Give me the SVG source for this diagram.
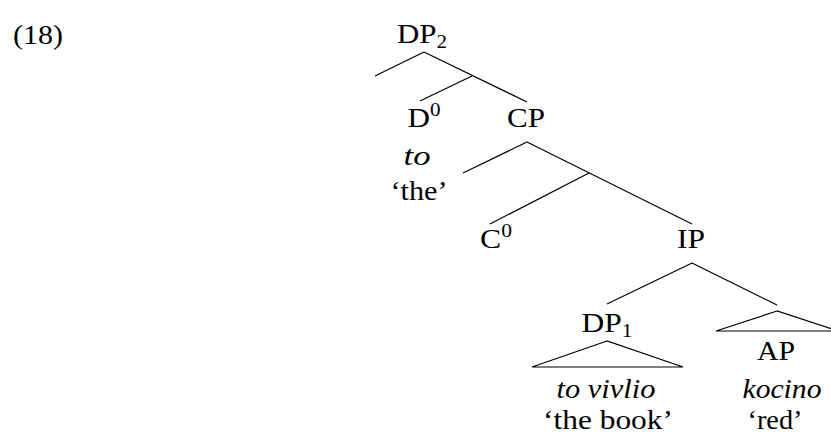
<svg xmlns="http://www.w3.org/2000/svg" width="831" height="434" viewBox="0 0 831 434">
<style>
text{font-family:"Liberation Serif","DejaVu Serif",serif;font-size:28px;fill:#000;text-anchor:middle}
.it{font-style:italic}
.s{font-size:19px}
#connectors line,#connectors polygon{stroke:#000;stroke-width:1.2;fill:none}
</style>
<rect width="831" height="434" fill="#fff"/>
<text x="38" y="44" textLength="50" lengthAdjust="spacingAndGlyphs">(18)</text>
<g id="connectors">
<line x1="424" y1="52" x2="375" y2="76"/>
<line x1="424" y1="52" x2="527" y2="102"/>
<line x1="472" y1="76" x2="420" y2="101"/>
<line x1="527" y1="142" x2="463" y2="173"/>
<line x1="527" y1="142" x2="692" y2="224"/>
<line x1="589" y1="173" x2="490" y2="224"/>
<line x1="692" y1="263" x2="607" y2="304"/>
<line x1="692" y1="263" x2="777" y2="305"/>
<polygon points="607,341 532,367 683,367"/>
<polygon points="777,311 716,331 838,331"/>
</g>
<g id="DP2"><text x="422" y="43" textLength="50" lengthAdjust="spacingAndGlyphs">DP<tspan class="s" dy="5">2</tspan></text></g>
<g id="D0"><text x="424" y="127" textLength="33" lengthAdjust="spacingAndGlyphs">D<tspan class="s" dy="-11">0</tspan></text>
<text class="it" x="417" y="165" textLength="27" lengthAdjust="spacingAndGlyphs">to</text>
<text x="419" y="200" textLength="57" lengthAdjust="spacingAndGlyphs">‘the’</text></g>
<g id="CP"><text x="526" y="127" textLength="38" lengthAdjust="spacingAndGlyphs">CP</text></g>
<g id="C0"><text x="496" y="248" textLength="32" lengthAdjust="spacingAndGlyphs">C<tspan class="s" dy="-11">0</tspan></text></g>
<g id="IP"><text x="691" y="248" textLength="28" lengthAdjust="spacingAndGlyphs">IP</text></g>
<g id="DP1"><text x="607" y="332" textLength="51" lengthAdjust="spacingAndGlyphs">DP<tspan class="s" dy="5">1</tspan></text>
<text class="it" x="606" y="398" textLength="99" lengthAdjust="spacingAndGlyphs">to vivlio</text>
<text x="608" y="429" textLength="130" lengthAdjust="spacingAndGlyphs">‘the book’</text></g>
<g id="AP"><text x="776" y="360" textLength="38" lengthAdjust="spacingAndGlyphs">AP</text>
<text class="it" x="782" y="398" textLength="79" lengthAdjust="spacingAndGlyphs">kocino</text>
<text x="775" y="429" textLength="55" lengthAdjust="spacingAndGlyphs">‘red’</text></g>
</svg>
